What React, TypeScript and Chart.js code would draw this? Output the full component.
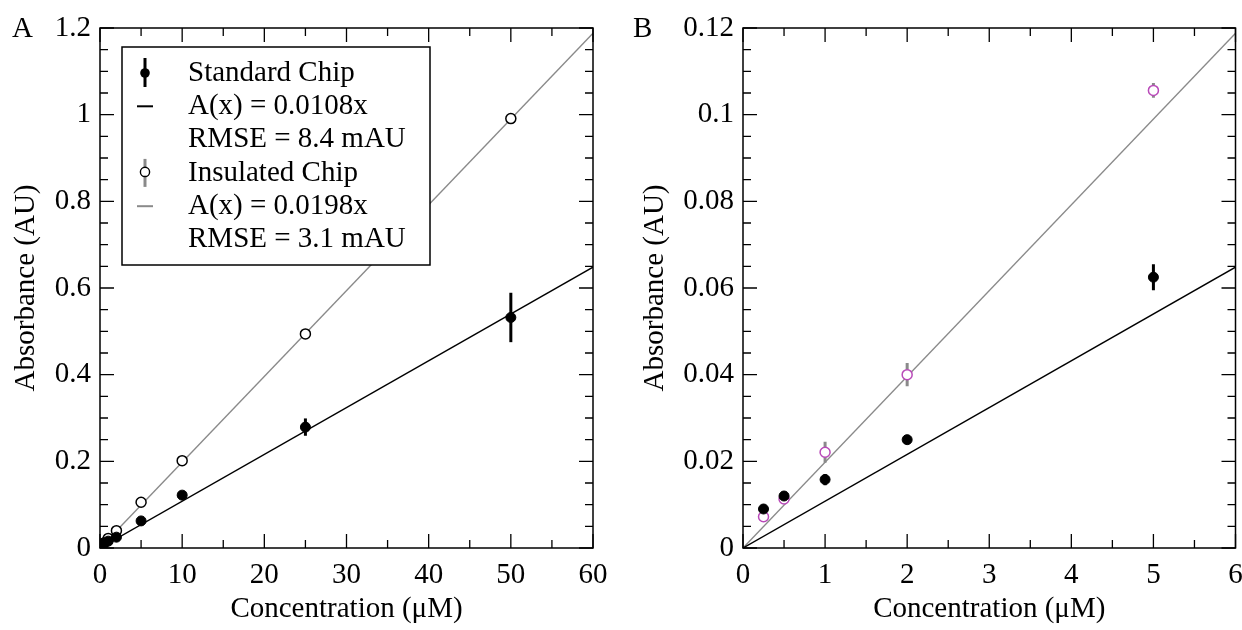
import { useEffect, useRef } from 'react';
import { Chart, registerables } from 'chart.js';

Chart.register(...registerables);

// ---------- data ----------
const concentrations = [0.25, 0.5, 1, 2, 5, 10, 25, 50];
const standardChip = [0.009, 0.012, 0.0158, 0.025, 0.0625, 0.122, 0.279, 0.532];
const standardErr = [0.0008, 0.0008, 0.0013, 0.0008, 0.003, 0.005, 0.02, 0.057];
const insulatedChip = [0.0072, 0.0113, 0.0221, 0.04, 0.1056, 0.2015, 0.494, 0.991];
const insulatedErr = [0.0005, 0.0005, 0.0024, 0.0027, 0.0017, 0.003, 0.004, 0.004];

const fitX = [0, 60];
const fitStandard = [0, 0.648];
const fitInsulated = [0, 1.188];

const xTicksA = [0, 10, 20, 30, 40, 50, 60];
const xLabelsA = ['0', '10', '20', '30', '40', '50', '60'];
const yTicksA = [0, 0.2, 0.4, 0.6, 0.8, 1, 1.2];
const yLabelsA = ['0', '0.2', '0.4', '0.6', '0.8', '1', '1.2'];

const xTicksB = [0, 1, 2, 3, 4, 5, 6];
const xLabelsB = ['0', '1', '2', '3', '4', '5', '6'];
const yTicksB = [0, 0.02, 0.04, 0.06, 0.08, 0.1, 0.12];
const yLabelsB = ['0', '0.02', '0.04', '0.06', '0.08', '0.1', '0.12'];

const legendLines = [
  'Standard Chip',
  'A(x) = 0.0108x',
  'RMSE = 8.4 mAU',
  'Insulated Chip',
  'A(x) = 0.0198x',
  'RMSE = 3.1 mAU',
];

const xTitle = 'Concentration (\u03bcM)';
const yTitle = 'Absorbance (AU)';

// ---------- styles ----------
const FONT_FAMILY = '"Liberation Serif", "Times New Roman", serif';
const FONT_SIZE = 29;
const GRAY = '#8a8a8a';
const MAGENTA = '#b94ab9';

type PanelCfg = {
  label: string;
  xTicks: number[];
  xLabels: string[];
  yTicks: number[];
  yLabels: string[];
  xDiv: number;
  yDiv: number;
  yAxisWidth: number;
  rightPad: number;
  yTitlePad: number;
  insulatedColor: string;
  legend: boolean;
};

const panels: PanelCfg[] = [
  {
    label: 'A',
    xTicks: xTicksA,
    xLabels: xLabelsA,
    yTicks: yTicksA,
    yLabels: yLabelsA,
    xDiv: 2,
    yDiv: 4,
    yAxisWidth: 100,
    rightPad: 28,
    yTitlePad: 9,
    insulatedColor: '#000000',
    legend: true,
  },
  {
    label: 'B',
    xTicks: xTicksB,
    xLabels: xLabelsB,
    yTicks: yTicksB,
    yLabels: yLabelsB,
    xDiv: 2,
    yDiv: 4,
    yAxisWidth: 122,
    rightPad: 5,
    yTitlePad: 17,
    insulatedColor: MAGENTA,
    legend: false,
  },
];

function withMinor(majors: number[], div: number): number[] {
  const out: number[] = [];
  for (let i = 0; i < majors.length - 1; i++) {
    for (let k = 1; k < div; k++) {
      out.push(majors[i] + ((majors[i + 1] - majors[i]) * k) / div);
    }
  }
  return out;
}

const errorBarPlugin = {
  id: 'errorBars',
  beforeDatasetDraw(chart: any, args: any) {
    const ds = chart.data.datasets[args.index];
    if (!ds.errors) return;
    const { ctx, chartArea, scales } = chart;
    ctx.save();
    ctx.beginPath();
    ctx.rect(chartArea.left, chartArea.top, chartArea.right - chartArea.left, chartArea.bottom - chartArea.top);
    ctx.clip();
    ctx.strokeStyle = ds.errorColor;
    ctx.lineWidth = 3;
    ds.data.forEach((p: any, i: number) => {
      const x = scales.x.getPixelForValue(p.x);
      const y1 = scales.y.getPixelForValue(p.y - ds.errors[i]);
      const y2 = scales.y.getPixelForValue(p.y + ds.errors[i]);
      ctx.beginPath();
      ctx.moveTo(x, y1);
      ctx.lineTo(x, y2);
      ctx.stroke();
    });
    ctx.restore();
  },
};

const framePlugin = {
  id: 'frame',
  afterDatasetsDraw(chart: any, _args: any, opts: any) {
    const { ctx, chartArea, scales } = chart;
    const { left, right, top, bottom } = chartArea;
    const MAJ = 14;
    const MIN = 8;
    ctx.save();
    ctx.strokeStyle = '#000';
    ctx.lineWidth = 1.5;
    ctx.strokeRect(left, top, right - left, bottom - top);
    ctx.lineWidth = 1.3;
    const drawX = (vals: number[], len: number) => {
      vals.forEach((v) => {
        const x = scales.x.getPixelForValue(v);
        ctx.beginPath();
        ctx.moveTo(x, bottom);
        ctx.lineTo(x, bottom - len);
        ctx.moveTo(x, top);
        ctx.lineTo(x, top + len);
        ctx.stroke();
      });
    };
    const drawY = (vals: number[], len: number) => {
      vals.forEach((v) => {
        const y = scales.y.getPixelForValue(v);
        ctx.beginPath();
        ctx.moveTo(left, y);
        ctx.lineTo(left + len, y);
        ctx.moveTo(right, y);
        ctx.lineTo(right - len, y);
        ctx.stroke();
      });
    };
    drawX(opts.xTicks, MAJ);
    drawX(withMinor(opts.xTicks, opts.xDiv), MIN);
    drawY(opts.yTicks, MAJ);
    drawY(withMinor(opts.yTicks, opts.yDiv), MIN);
    ctx.restore();
  },
  afterDraw(chart: any, _args: any, opts: any) {
    const { ctx } = chart;
    ctx.save();
    ctx.fillStyle = '#000';
    ctx.font = `${FONT_SIZE}px ${FONT_FAMILY}`;
    ctx.textBaseline = 'alphabetic';
    ctx.textAlign = 'left';
    ctx.fillText(opts.label, 12, 37);

    if (opts.legend) {
      const bx = 122;
      const by = 47;
      const bw = 308;
      const bh = 218;
      ctx.fillStyle = '#fff';
      ctx.fillRect(bx, by, bw, bh);
      ctx.strokeStyle = '#000';
      ctx.lineWidth = 1.5;
      ctx.strokeRect(bx, by, bw, bh);
      const rowY = (i: number) => 73 + 33.3 * i;
      const mx = 145;
      // standard marker: error bar + filled circle
      ctx.strokeStyle = '#000';
      ctx.lineWidth = 3;
      ctx.beginPath();
      ctx.moveTo(mx, rowY(0) - 15);
      ctx.lineTo(mx, rowY(0) + 14);
      ctx.stroke();
      ctx.fillStyle = '#000';
      ctx.beginPath();
      ctx.arc(mx, rowY(0), 4.8, 0, Math.PI * 2);
      ctx.fill();
      // standard fit dash
      ctx.lineWidth = 2;
      ctx.beginPath();
      ctx.moveTo(137, rowY(1));
      ctx.lineTo(153, rowY(1));
      ctx.stroke();
      // insulated marker
      ctx.strokeStyle = GRAY;
      ctx.lineWidth = 3;
      ctx.beginPath();
      ctx.moveTo(mx, rowY(3) - 14);
      ctx.lineTo(mx, rowY(3) + 14);
      ctx.stroke();
      ctx.fillStyle = '#fff';
      ctx.strokeStyle = '#000';
      ctx.lineWidth = 1.4;
      ctx.beginPath();
      ctx.arc(mx, rowY(3) - 1, 4.6, 0, Math.PI * 2);
      ctx.fill();
      ctx.stroke();
      // insulated fit dash
      ctx.strokeStyle = GRAY;
      ctx.lineWidth = 2;
      ctx.beginPath();
      ctx.moveTo(137, rowY(4));
      ctx.lineTo(153, rowY(4));
      ctx.stroke();
      // texts
      ctx.fillStyle = '#000';
      ctx.textBaseline = 'middle';
      legendLines.forEach((t, i) => {
        ctx.fillText(t, 188, rowY(i));
      });
    }
    ctx.restore();
  },
};

function Panel({ cfg }: { cfg: PanelCfg }) {
  const ref = useRef<HTMLCanvasElement | null>(null);

  useEffect(() => {
    if (!ref.current) return;
    const font = { family: FONT_FAMILY, size: FONT_SIZE };
    const pts = (ys: number[]) => concentrations.map((x, i) => ({ x, y: ys[i] }));
    const fitPts = (ys: number[]) => fitX.map((x, i) => ({ x, y: ys[i] }));

    const chart = new Chart(ref.current, {
      type: 'scatter',
      data: {
        datasets: [
          {
            label: 'Standard Chip',
            data: pts(standardChip),
            errors: standardErr,
            errorColor: '#000',
            pointRadius: 5,
            pointBackgroundColor: '#000',
            pointBorderColor: '#000',
            pointBorderWidth: 1,
            showLine: false,
          } as any,
          {
            label: 'Insulated Chip',
            data: pts(insulatedChip),
            errors: insulatedErr,
            errorColor: GRAY,
            pointRadius: 5,
            pointBackgroundColor: '#fff',
            pointBorderColor: cfg.insulatedColor,
            pointBorderWidth: 1.5,
            showLine: false,
          } as any,
          {
            label: 'Standard fit',
            data: fitPts(fitStandard),
            showLine: true,
            borderColor: '#000',
            borderWidth: 1.4,
            pointRadius: 0,
          },
          {
            label: 'Insulated fit',
            data: fitPts(fitInsulated),
            showLine: true,
            borderColor: GRAY,
            borderWidth: 1.4,
            pointRadius: 0,
          },
        ],
      },
      options: {
        responsive: false,
        animation: false,
        devicePixelRatio: 1,
        layout: { padding: { top: 28, right: cfg.rightPad, bottom: 0, left: 0 } },
        plugins: {
          legend: { display: false },
          tooltip: { enabled: false },
          frame: {
            xTicks: cfg.xTicks,
            yTicks: cfg.yTicks,
            xDiv: cfg.xDiv,
            yDiv: cfg.yDiv,
            label: cfg.label,
            legend: cfg.legend,
          },
        } as any,
        scales: {
          x: {
            type: 'linear',
            min: cfg.xTicks[0],
            max: cfg.xTicks[cfg.xTicks.length - 1],
            afterBuildTicks: (s: any) => {
              s.ticks = cfg.xTicks.map((v) => ({ value: v }));
            },
            afterFit: (s: any) => {
              s.height = 82;
              s.paddingLeft = 0;
              s.paddingRight = 0;
            },
            ticks: {
              font,
              color: '#000',
              padding: 10,
              maxRotation: 0,
              autoSkip: false,
              callback: (_v: any, i: number) => cfg.xLabels[i],
            },
            grid: { display: false, drawTicks: false },
            border: { display: false },
            title: {
              display: true,
              text: xTitle,
              font,
              color: '#000',
              padding: { top: 0, bottom: 3 },
            },
          },
          y: {
            type: 'linear',
            min: cfg.yTicks[0],
            max: cfg.yTicks[cfg.yTicks.length - 1],
            afterBuildTicks: (s: any) => {
              s.ticks = cfg.yTicks.map((v) => ({ value: v }));
            },
            afterFit: (s: any) => {
              s.width = cfg.yAxisWidth;
              s.paddingTop = 0;
              s.paddingBottom = 0;
            },
            ticks: {
              font,
              color: '#000',
              padding: 9,
              autoSkip: false,
              callback: (_v: any, i: number) => cfg.yLabels[i],
            },
            grid: { display: false, drawTicks: false },
            border: { display: false },
            title: {
              display: true,
              text: yTitle,
              font,
              color: '#000',
              padding: { top: cfg.yTitlePad, bottom: 0 },
            },
          },
        },
      } as any,
      plugins: [errorBarPlugin, framePlugin],
    });
    return () => chart.destroy();
  }, [cfg]);

  return <canvas ref={ref} width={621} height={630} style={{ display: 'block' }} />;
}

export default function App() {
  return (
    <div
      style={{
        position: 'fixed',
        left: 0,
        top: 0,
        width: 1242,
        height: 630,
        display: 'flex',
        background: '#fff',
      }}
    >
      {panels.map((p) => (
        <Panel key={p.label} cfg={p} />
      ))}
    </div>
  );
}
